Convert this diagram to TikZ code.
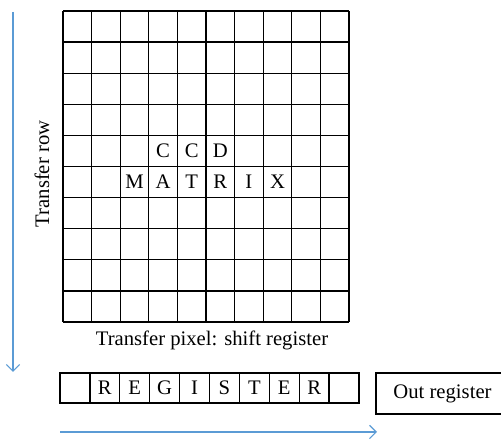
\documentclass[tikz,border=0pt]{standalone}
\usepackage{fontspec}
\setmainfont{Liberation Serif}
\usetikzlibrary{arrows.meta, positioning}
\definecolor{flowblue}{RGB}{91,155,213}

\tikzset{
  cellline/.style={line width=1pt},
  flow/.style={flowblue, line width=0.8pt, -{Straight Barb[length=5pt,width=10pt]}},
  letter/.style={font=\fontsize{15.5}{18}\selectfont, inner sep=0pt},
  caption/.style={font=\fontsize{15.5}{18}\selectfont, inner sep=0pt}
}

\begin{document}
\begin{tikzpicture}[x=0.75pt, y=-0.75pt]
\useasboundingbox (0,0) rectangle (501,441);

% CCD matrix
\foreach \i in {0,...,10} {
  \draw[cellline] (63+\i*28.6,11) -- (63+\i*28.6,322);
  \draw[cellline] (63,11+\i*31.1) -- (349,11+\i*31.1);
}
\foreach \ch [count=\k from 3] in {C,C,D}
  \node[letter] (ccd\k) at (63+\k*28.6+14.3, 11+4*31.1+15.55) {\ch};
\foreach \ch [count=\k from 2] in {M,A,T,R,I,X}
  \node[letter] (mat\k) at (63+\k*28.6+14.3, 11+5*31.1+15.55) {\ch};

\node[caption] (pixlabel) at (212,340) {Transfer pixel: shift register};
\node[caption, rotate=90] (rowlabel) at (42,174) {Transfer row};

% Register
\draw[cellline] (60,373) rectangle (359,403);
\foreach \i in {1,...,9}
  \draw[cellline] (60+\i*29.9,373) -- (60+\i*29.9,403);
\foreach \ch [count=\k from 1] in {R,E,G,I,S,T,E,R}
  \node[letter] (reg\k) at (60+\k*29.9+14.95, 388) {\ch};

% Out register
\node[draw, cellline, caption, minimum width=99.75pt, minimum height=30.75pt]
  (out) at (442.5,393.5) {Out register};

% Arrows
\coordinate (rowtop) at (13,12);
\coordinate (rowend) at (13,372);
\draw[flow] (rowtop) -- (rowend);
\coordinate (pixstart) at (60,432);
\coordinate (pixend) at (377,432);
\draw[flow] (pixstart) -- (pixend);
\end{tikzpicture}
\end{document}
